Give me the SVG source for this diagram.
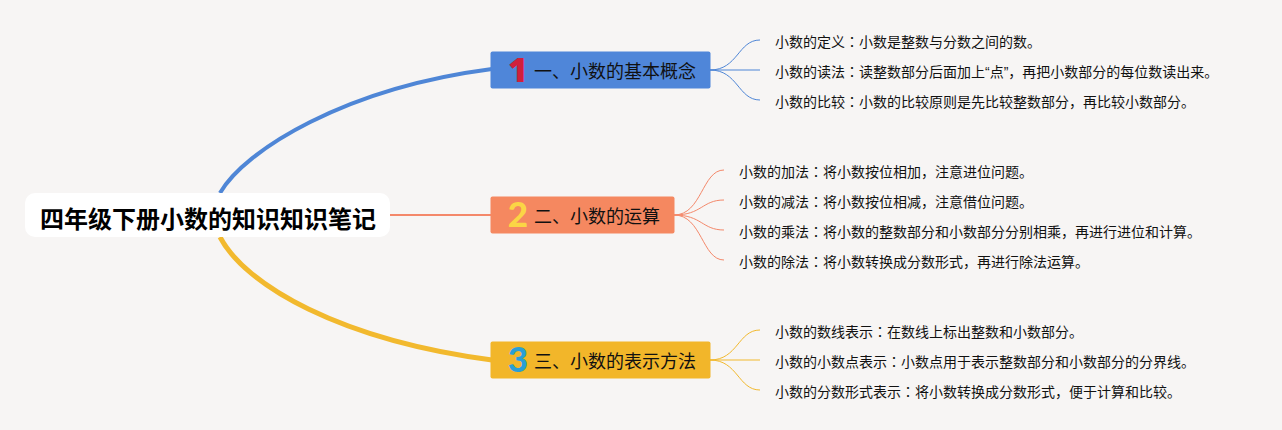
<svg xmlns="http://www.w3.org/2000/svg" width="1282" height="430" viewBox="0 0 1282 430">
<style>
text{font-family:"Liberation Sans","Noto Sans CJK SC",sans-serif;fill:#111}
.col{font-family:"Noto Sans CJK TC",sans-serif}
.leaf{font-size:14px}
.topic{font-size:18px}
.num{font-family:"Lato","Liberation Sans",sans-serif;font-size:35px;font-weight:900;text-anchor:middle}
.c{fill:none}
.blue{stroke:#4f86d6}.red{stroke:#f4886a}.yel{stroke:#f2b92e}
.thin{stroke-width:1}
</style>
<rect width="1282" height="430" fill="#f7f5f4"/>
<g id="connectors" class="c">
<path class="c blue" stroke-width="4" d="M220 193C245 150 345 88 492 69"/>
<path class="c red" stroke-width="2" d="M390 215H492"/>
<path class="c yel" stroke-width="5" d="M220 237C245 285 340 340 492 360"/>
<g class="thin">
<path class="c blue" d="M710 70C738 70 738 40 760 40"/>
<path class="c blue" d="M710 70H760" stroke-width="1.200"/>
<path class="c blue" d="M710 70C738 70 738 100 760 100"/>
<path class="c red" d="M674 215C702 215 702 170 724 170"/>
<path class="c red" d="M674 215C702 215 702 200 724 200"/>
<path class="c red" d="M674 215C702 215 702 230 724 230"/>
<path class="c red" d="M674 215C702 215 702 260 724 260"/>
<path class="c yel" d="M710 360C738 360 738 330 760 330"/>
<path class="c yel" d="M710 360H760" stroke-width="1.200"/>
<path class="c yel" d="M710 360C738 360 738 390 760 390"/>
</g>
</g>
<g id="root">
<rect x="25" y="193" width="365" height="44" rx="10" fill="#fff"/>
<text x="40" y="227.500" style="font-size:24px;font-weight:700;fill:#000">四年级下册小数的知识知识笔记</text>
</g>
<g id="topic1">
<rect x="490.500" y="51.500" width="220" height="37" rx="2" fill="#4f86d9"/>
<text class="num" x="518" y="82" style="fill:#d0203c;font-family:'Open Sans',sans-serif;font-weight:800;font-size:34px">1</text>
<text class="topic" x="534" y="78">一、小数的基本概念</text>
</g>
<g id="topic2">
<rect x="490.500" y="196.500" width="184" height="37" rx="2" fill="#f58860"/>
<text class="num" x="518" y="227" style="fill:#fbd545">2</text>
<text class="topic" x="534" y="223">二、小数的运算</text>
</g>
<g id="topic3">
<rect x="490.500" y="341.500" width="220" height="37" rx="2" fill="#f2b62a"/>
<text class="num" x="518" y="372" style="fill:#2a9fd6">3</text>
<text class="topic" x="534" y="368">三、小数的表示方法</text>
</g>
<g id="leaf1-1"><text class="leaf" x="775" y="46.500">小数的定义<tspan class="col">：</tspan>小数是整数与分数之间的数。</text></g>
<g id="leaf1-2"><text class="leaf" x="775" y="76.500">小数的读法<tspan class="col">：</tspan>读整数部分后面加上“点”，再把小数部分的每位数读出来。</text></g>
<g id="leaf1-3"><text class="leaf" x="775" y="106.500">小数的比较<tspan class="col">：</tspan>小数的比较原则是先比较整数部分，再比较小数部分。</text></g>
<g id="leaf2-1"><text class="leaf" x="739" y="176.500">小数的加法<tspan class="col">：</tspan>将小数按位相加，注意进位问题。</text></g>
<g id="leaf2-2"><text class="leaf" x="739" y="206.500">小数的减法<tspan class="col">：</tspan>将小数按位相减，注意借位问题。</text></g>
<g id="leaf2-3"><text class="leaf" x="739" y="236.500">小数的乘法<tspan class="col">：</tspan>将小数的整数部分和小数部分分别相乘，再进行进位和计算。</text></g>
<g id="leaf2-4"><text class="leaf" x="739" y="266.500">小数的除法<tspan class="col">：</tspan>将小数转换成分数形式，再进行除法运算。</text></g>
<g id="leaf3-1"><text class="leaf" x="775" y="336.500">小数的数线表示<tspan class="col">：</tspan>在数线上标出整数和小数部分。</text></g>
<g id="leaf3-2"><text class="leaf" x="775" y="366.500">小数的小数点表示<tspan class="col">：</tspan>小数点用于表示整数部分和小数部分的分界线。</text></g>
<g id="leaf3-3"><text class="leaf" x="775" y="396.500">小数的分数形式表示<tspan class="col">：</tspan>将小数转换成分数形式，便于计算和比较。</text></g>
</svg>
